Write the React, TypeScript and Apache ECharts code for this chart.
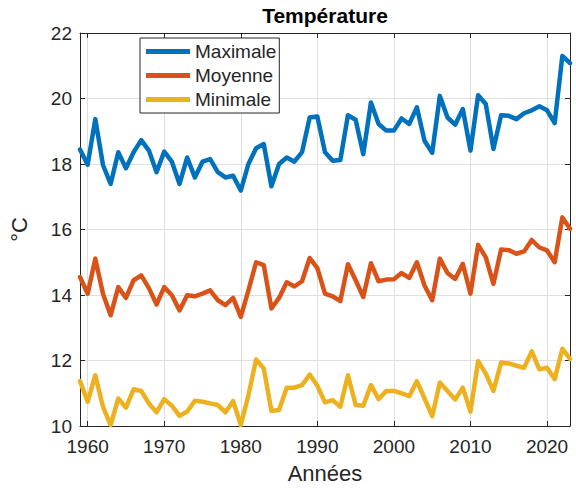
import React, { useEffect, useRef } from "react";
import * as echarts from "echarts";

// Années de la série
const years: number[] = [];
for (let y = 1959; y <= 2023; y++) years.push(y);

// Températures annuelles (°C)
const maximale = [
  18.44, 17.98, 19.37, 17.97, 17.39, 18.36, 17.87, 18.36, 18.73, 18.41,
  17.75, 18.38, 18.07, 17.39, 18.2, 17.59, 18.07, 18.15, 17.75, 17.59,
  17.64, 17.19, 18.0, 18.48, 18.61, 17.32, 18.0, 18.2, 18.07, 18.36,
  19.42, 19.45, 18.36, 18.1, 18.12, 19.49, 19.35, 18.3, 19.88, 19.22,
  19.02, 19.02, 19.39, 19.22, 19.73, 18.71, 18.34, 20.08, 19.42, 19.2,
  19.68, 18.41, 20.1, 19.83, 18.46, 19.49, 19.47, 19.37, 19.55, 19.64,
  19.76, 19.64, 19.25, 21.3, 21.08,
];
const moyenne = [
  14.55, 14.04, 15.11, 14.04, 13.38, 14.24, 13.91, 14.45, 14.6, 14.21,
  13.71, 14.24, 13.99, 13.53, 13.99, 13.96, 14.04, 14.14, 13.84, 13.69,
  13.91, 13.33, 14.14, 15.0, 14.91, 13.59, 13.91, 14.39, 14.26, 14.42,
  15.13, 14.82, 14.04, 13.96, 13.81, 14.94, 14.45, 13.94, 14.97, 14.42,
  14.47, 14.48, 14.67, 14.52, 15.0, 14.29, 13.84, 15.11, 14.67, 14.49,
  14.95, 14.04, 15.53, 15.15, 14.34, 15.39, 15.37, 15.26, 15.33, 15.68,
  15.45, 15.36, 15.0, 16.37, 16.02,
];
const minimale = [
  11.37, 10.74, 11.55, 10.59, 10.03, 10.84, 10.56, 11.12, 11.07, 10.69,
  10.42, 10.82, 10.62, 10.31, 10.44, 10.77, 10.74, 10.69, 10.64, 10.42,
  10.76, 10.03, 10.94, 12.03, 11.76, 10.46, 10.49, 11.17, 11.17, 11.25,
  11.57, 11.23, 10.72, 10.79, 10.59, 11.55, 10.64, 10.62, 11.25, 10.82,
  11.07, 11.07, 11.0, 10.91, 11.37, 10.84, 10.3, 11.33, 11.07, 10.81,
  11.17, 10.44, 11.98, 11.6, 11.07, 11.94, 11.91, 11.84, 11.78, 12.28,
  11.73, 11.78, 11.43, 12.36, 12.05,
];

const seriesNames = ["Maximale", "Moyenne", "Minimale"];
const seriesColors = ["#0072BD", "#D95319", "#EDB120"];

const FONT = "Liberation Sans, Arial, Helvetica, sans-serif";
const INK = "#262626";

export default function App() {
  const ref = useRef<HTMLDivElement>(null);

  useEffect(() => {
    if (!ref.current) return;
    const chart = echarts.init(ref.current, undefined, { renderer: "svg" });

    const values = [maximale, moyenne, minimale];
    const tickCommon = {
      show: true,
      inside: true,
      length: 5,
      lineStyle: { color: INK, width: 1 },
    };

    chart.setOption({
      animation: false,
      backgroundColor: "#ffffff",
      textStyle: { fontFamily: FONT },
      title: {
        text: "Température",
        left: 320,
        textAlign: "center",
        top: 1,
        padding: [4, 5, 5, 5],
        textStyle: { fontSize: 21, fontWeight: "bold", color: "#000", fontFamily: FONT },
      },
      legend: {
        data: seriesNames,
        orient: "vertical",
        left: 140,
        top: 38,
        icon: "rect",
        itemWidth: 44,
        itemHeight: 5,
        itemGap: 5,
        padding: [4, 3, 4, 6],
        borderColor: INK,
        borderWidth: 1,
        backgroundColor: "#ffffff",
        textStyle: { fontSize: 19, color: INK, fontFamily: FONT },
      },
      grid: { left: 70, right: 6, top: 33, bottom: 61, containLabel: false },
      xAxis: [
        {
          type: "value",
          min: 1959,
          max: 2023,
          splitNumber: 6,
          name: "Années",
          nameLocation: "middle",
          nameGap: 36,
          nameTextStyle: { fontSize: 22, color: INK, fontFamily: FONT },
          axisLine: { show: true, lineStyle: { color: INK, width: 1 } },
          axisTick: tickCommon,
          axisLabel: {
            fontSize: 19,
            color: INK,
            margin: 11,
            showMinLabel: false,
            showMaxLabel: false,
            fontFamily: FONT,
            formatter: (v: number) => String(v),
          },
          splitLine: { show: true, lineStyle: { color: "#dfdfdf", width: 1 } },
        },
        {
          type: "value",
          position: "top",
          min: 1959,
          max: 2023,
          splitNumber: 6,
          axisLine: { show: true, lineStyle: { color: INK, width: 1 } },
          axisTick: tickCommon,
          axisLabel: { show: false },
          splitLine: { show: false },
        },
      ],
      yAxis: [
        {
          type: "value",
          min: 10,
          max: 22,
          interval: 2,
          name: "°C",
          nameLocation: "middle",
          nameRotate: 90,
          nameGap: 50,
          nameTextStyle: { fontSize: 22, color: INK, fontFamily: FONT },
          axisLine: { show: true, lineStyle: { color: INK, width: 1 } },
          axisTick: tickCommon,
          axisLabel: { fontSize: 19, color: INK, margin: 8, fontFamily: FONT },
          splitLine: { show: true, lineStyle: { color: "#dfdfdf", width: 1 } },
        },
        {
          type: "value",
          position: "right",
          min: 10,
          max: 22,
          interval: 2,
          axisLine: { show: true, lineStyle: { color: INK, width: 1 } },
          axisTick: tickCommon,
          axisLabel: { show: false },
          splitLine: { show: false },
        },
      ],
      series: values.map((vals, i) => ({
        name: seriesNames[i],
        type: "line",
        xAxisIndex: 0,
        yAxisIndex: 0,
        data: years.map((y, k) => [y, vals[k]]),
        showSymbol: false,
        symbol: "none",
        color: seriesColors[i],
        lineStyle: { width: 4.5, color: seriesColors[i], join: "round", cap: "round" },
        emphasis: { disabled: true },
        z: 3,
      })),
    });

    return () => chart.dispose();
  }, []);

  return (
    <div
      ref={ref}
      style={{ position: "fixed", left: 0, top: 0, width: 576, height: 489 }}
    />
  );
}
